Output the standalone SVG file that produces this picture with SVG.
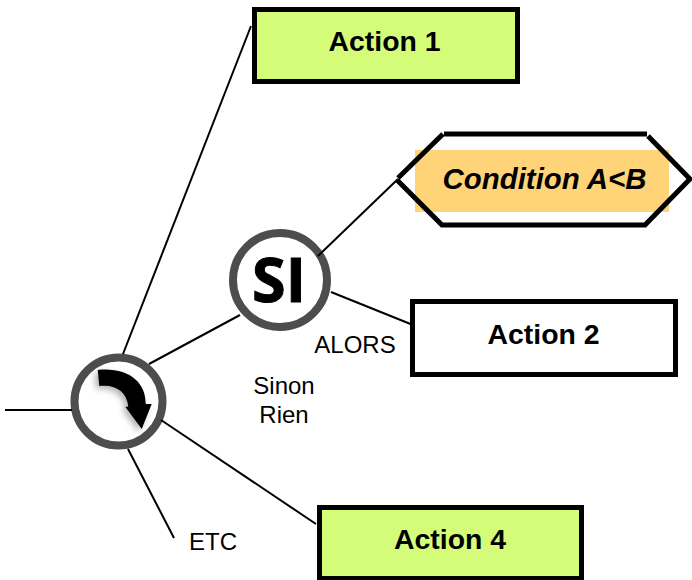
<svg xmlns="http://www.w3.org/2000/svg" width="692" height="580" viewBox="0 0 692 580">
<style>
.c{fill:none;stroke:#000;stroke-width:2}
.hub{fill:#fff;stroke:#4d4d4d;stroke-width:8}
.box{stroke:#000;stroke-width:5}
.green{fill:#d4fc79}
.b{font-family:"Liberation Sans",Arial,sans-serif;font-weight:bold;font-size:28.400px;text-anchor:middle;fill:#000}
.t{font-family:"Liberation Sans",Arial,sans-serif;font-size:24px;text-anchor:middle;fill:#000}
.hex{fill:none;stroke:#000;stroke-width:5}
</style>
<defs><filter id="s" x="-30%" y="-30%" width="160%" height="160%"><feDropShadow dx="-3" dy="3" stdDeviation="3" flood-color="#000" flood-opacity=".3"/></filter></defs>
<g id="action1"><rect class="box green" x="254.500" y="9.500" width="263" height="72"/><text class="b" x="384.500" y="51">Action 1</text></g>
<g id="condition">
<rect x="415" y="150" width="254" height="62" fill="#ffd479"/>
<path class="hex" d="M444 134H647M398 178L443 134M397 180L442 225H645L690 179L648 136"/>
<text class="b" style="font-size:29.400px" x="544.500" y="189" font-style="italic">Condition A&lt;B</text>
</g>
<g id="action2"><rect class="box" fill="#fff" x="412.500" y="301.500" width="263" height="73"/><text class="b" x="543.500" y="344">Action 2</text></g>
<g id="action4"><rect class="box green" x="319.500" y="507.500" width="262" height="71"/><text class="b" x="450" y="549">Action 4</text></g>
<g id="si"><circle class="hub" cx="280" cy="280" r="47"/><text x="279" y="302" font-family="'Open Sans','Liberation Sans',sans-serif" font-weight="700" font-size="61" text-anchor="middle" stroke="#000" stroke-width="1">SI</text></g>
<g id="start"><circle class="hub" cx="118.500" cy="401.500" r="44"/>
<path d="M97.700 370C128 367 146 382 145.700 404H151.700L141.700 429L125.300 406.700H128.300C127 392 116 384 99.300 386Z" filter="url(#s)"/></g>
<g id="connectors">
<line class="c" x1="5" y1="410" x2="72" y2="410"/>
<line class="c" x1="123" y1="354" x2="251" y2="26"/>
<line class="c" x1="149" y1="364" x2="240" y2="315"/>
<line class="c" x1="161" y1="420" x2="316" y2="524"/>
<line class="c" x1="128" y1="449" x2="174" y2="538"/>
<line class="c" x1="318" y1="256" x2="398" y2="179"/>
<line class="c" x1="331" y1="292" x2="413" y2="325"/>
</g>
<text class="t" x="355" y="353">ALORS</text>
<text class="t" x="284" y="394">Sinon</text>
<text class="t" x="284" y="423">Rien</text>
<text class="t" x="213" y="550">ETC</text>
</svg>
